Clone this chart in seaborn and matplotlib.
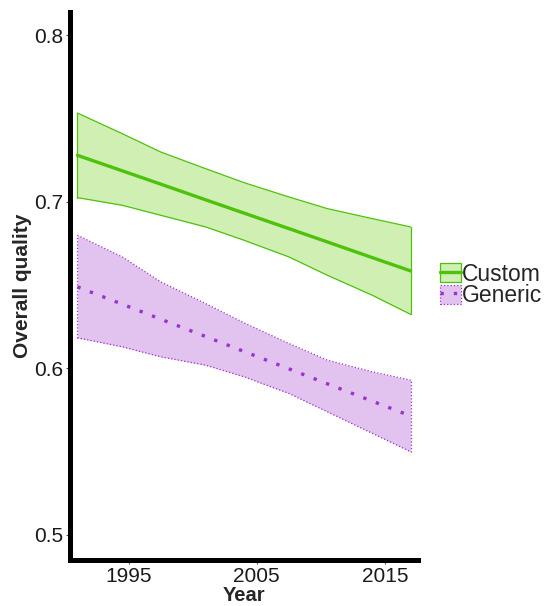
import numpy as np
import pandas as pd
import matplotlib.pyplot as plt
import seaborn as sns
from matplotlib.patches import Patch
from matplotlib.lines import Line2D

# values
years = [1991, 1994.5, 1997.5, 2001, 2004, 2007.5, 2010.5, 2014, 2017]
custom_mean = [0.728, 0.7187, 0.7107, 0.7013, 0.6933, 0.684, 0.676, 0.6666, 0.6586]
custom_upper = [0.7534, 0.741, 0.730, 0.720, 0.7116, 0.703, 0.696, 0.690, 0.685]
custom_lower = [0.7026, 0.698, 0.692, 0.685, 0.677, 0.667, 0.656, 0.644, 0.6325]
generic_mean = [0.649, 0.6386, 0.6296, 0.6192, 0.6102, 0.5998, 0.5908, 0.5804, 0.5715]
generic_upper = [0.680, 0.667, 0.652, 0.639, 0.6274, 0.615, 0.605, 0.598, 0.593]
generic_lower = [0.6184, 0.613, 0.607, 0.602, 0.595, 0.585, 0.574, 0.5611, 0.550]
groups = ["Custom", "Generic"]
x_ticks = [1995, 2005, 2015]
y_ticks = [0.5, 0.6, 0.7, 0.8]

line_colors = {"Custom": "#4CC20A", "Generic": "#9A32CD"}
fill_colors = {"Custom": "#D0EFB3", "Generic": "#E2C2EE"}

df = pd.DataFrame({
    "Year": years * 2,
    "Overall quality": custom_mean + generic_mean,
    "Type": ["Custom"] * len(years) + ["Generic"] * len(years),
})

sns.set_style("white")
plt.rcParams['font.family'] = ['Liberation Sans', 'DejaVu Sans']

fig = plt.figure(figsize=(5.54, 6.06), dpi=100)
ax = fig.add_axes([0.127, 0.076, 0.628, 0.904])

# confidence bands
bands = {"Custom": (custom_lower, custom_upper, '-'),
         "Generic": (generic_lower, generic_upper, ':')}
for g in groups:
    lo, hi, ls = bands[g]
    c = line_colors[g]
    ax.fill_between(years, lo, hi, color=fill_colors[g], linewidth=0, zorder=1)
    ax.plot(years, hi, color=c, lw=0.9, ls=ls, zorder=2)
    ax.plot(years, lo, color=c, lw=0.9, ls=ls, zorder=2)
    ax.plot([years[0]] * 2, [lo[0], hi[0]], color=c, lw=0.9, ls=ls, zorder=2)
    ax.plot([years[-1]] * 2, [lo[-1], hi[-1]], color=c, lw=0.9, ls=ls, zorder=2)

sns.lineplot(data=df, x="Year", y="Overall quality", hue="Type", style="Type",
             palette=line_colors, dashes={"Custom": "", "Generic": (1, 3)},
             linewidth=2.4, legend=False, ax=ax, zorder=3)

ax.set_xlim(1990.45, 2017.6)
ax.set_ylim(0.485, 0.814)
ax.set_xticks(x_ticks)
ax.set_yticks(y_ticks)
ax.set_yticklabels(["0.5", "0.6", "0.7", "0.8"])
ax.tick_params(axis='both', labelsize=15, length=3, width=0.8, color='#555555',
               labelcolor='#1a1a1a', left=True, bottom=True, pad=2)
ax.set_xlabel("Year", fontsize=14.5, fontweight='bold', labelpad=0)
ax.set_ylabel("Overall quality", fontsize=15, fontweight='bold', labelpad=2)

for s in ["top", "right"]:
    ax.spines[s].set_visible(False)
for s in ["left", "bottom"]:
    ax.spines[s].set_linewidth(3.6)
    ax.spines[s].set_color('black')

handles = [
    (Patch(facecolor=fill_colors["Custom"], edgecolor=line_colors["Custom"], lw=0.9),
     Line2D([], [], color=line_colors["Custom"], lw=2.4)),
    (Patch(facecolor=fill_colors["Generic"], edgecolor=line_colors["Generic"], lw=0.9, ls=':'),
     Line2D([], [], color=line_colors["Generic"], lw=2.4, ls=(0, (1, 3)))),
]
fig.legend(handles, groups, loc='center left', bbox_to_anchor=(0.794, 0.53),
           frameon=False, fontsize=16.5, handlelength=0.9, handleheight=0.9,
           handletextpad=0.05, labelspacing=-0.06, borderpad=0, borderaxespad=0)

fig.savefig("out.png", dpi=100)
